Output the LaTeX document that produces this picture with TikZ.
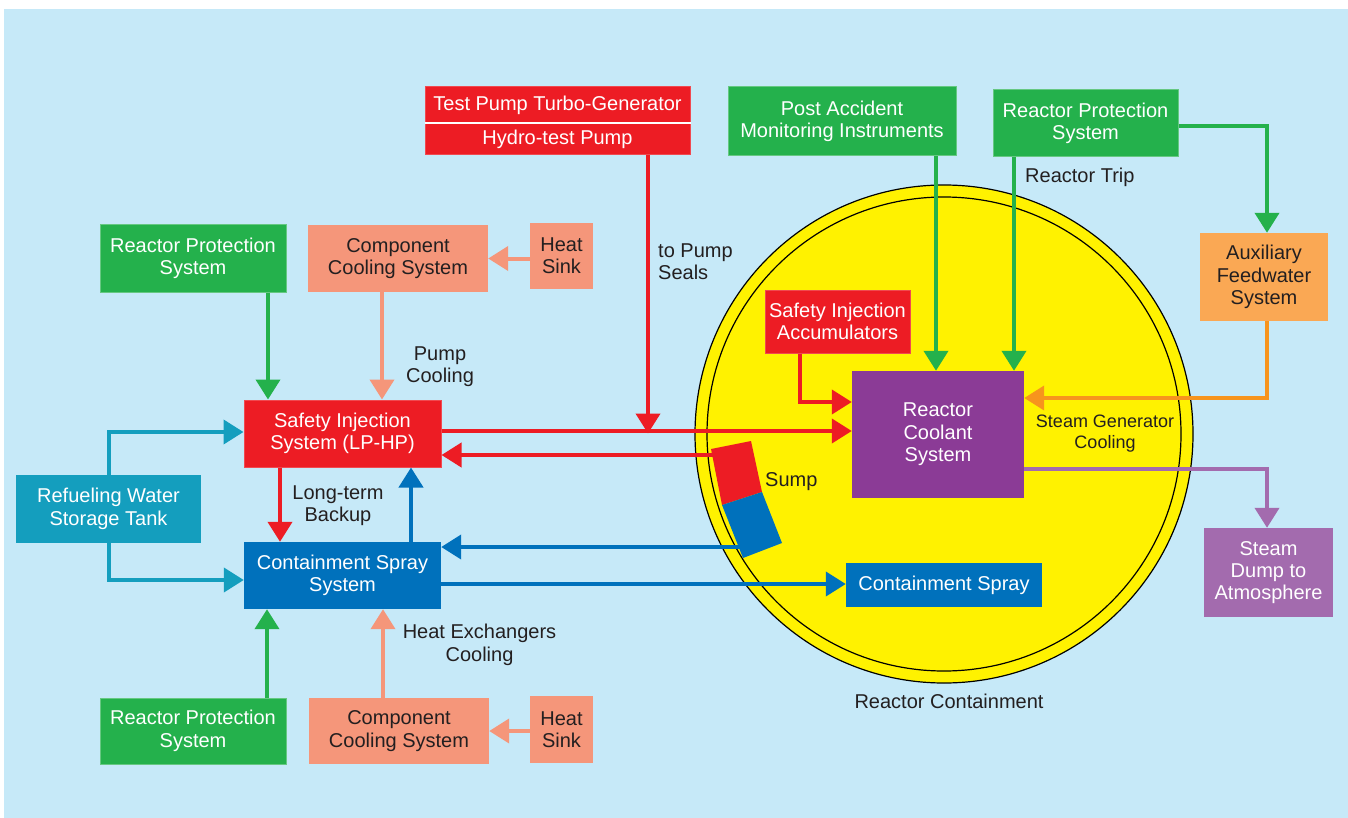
\documentclass[tikz,border=0pt]{standalone}
\usepackage{fontspec}
\setmainfont{Liberation Sans}
\usepackage{xcolor}
\usepackage{tikz}
\usetikzlibrary{positioning, arrows.meta}
\definecolor{bgblue}{RGB}{198,233,248}
\definecolor{rpgreen}{RGB}{36,177,76}
\definecolor{sired}{RGB}{237,28,36}
\definecolor{ccsalmon}{RGB}{245,150,122}
\definecolor{afworange}{RGB}{250,168,84}
\definecolor{sgorange}{RGB}{247,148,29}
\definecolor{tankteal}{RGB}{20,158,190}
\definecolor{csblue}{RGB}{0,113,188}
\definecolor{rcspurple}{RGB}{139,59,150}
\definecolor{dumppurple}{RGB}{163,107,174}
\definecolor{ctyellow}{RGB}{255,242,0}
\definecolor{labeltext}{RGB}{35,31,32}

\begin{document}
\begin{tikzpicture}[x=1pt, y=-1pt,
  box/.style={inner sep=0pt, align=center, text=white, font=\fontsize{20}{22.4}\selectfont},
  greenbox/.style={box, fill=rpgreen, draw=rpgreen!70!white, line width=1},
  redbox/.style={box, fill=sired, draw=sired!80!white, line width=1},
  bluebox/.style={box, fill=csblue},
  tealbox/.style={box, fill=tankteal},
  salmonbox/.style={box, fill=ccsalmon, text=labeltext},
  orangebox/.style={box, fill=afworange, text=labeltext},
  purplebox/.style={box, fill=rcspurple},
  dumpbox/.style={box, fill=dumppurple},
  ann/.style={text=labeltext, align=center, inner sep=0pt, font=\fontsize{20}{22.4}\selectfont},
  flow/.style={line width=4, -{Triangle[width=24pt,length=20pt]}}]
\useasboundingbox (0,0) rectangle (1348,818);
\fill[white] (0,0) rectangle (1348,818);
\fill[bgblue] (4,9) rectangle (1348,818);

\filldraw[fill=ctyellow, draw=black, line width=1.2] (944,434) circle[radius=249pt];
\draw[black, line width=1.2] (944,434) circle[radius=237pt];

\coordinate (sumpR) at (720,455);
\coordinate (sumpB) at (748,547);

\node[redbox, minimum width=265, minimum height=36] (tpg) at (557.5,105) {Test Pump Turbo-Generator};
\node[redbox, minimum width=265, minimum height=31, below=0pt of tpg] (htp) {Hydro-test Pump};
\draw[white, line width=2] (tpg.south west) -- (tpg.south east);
\node[greenbox, minimum width=228, minimum height=69] (pami) at (842,121.5) {Post Accident\\Monitoring Instruments};
\node[greenbox, minimum width=185, minimum height=67] (rpsT) at (1085.5,123.5) {Reactor Protection\\System};
\node[orangebox, minimum width=128, minimum height=88] (afw) at (1264,277) {Auxiliary\\Feedwater\\System};
\node[redbox, minimum width=145, minimum height=63] (sia) at (837.5,321.5) {Safety Injection\\Accumulators};
\node[purplebox, minimum width=172, minimum height=127] (rcs) at (938,434.5) {Reactor\\Coolant\\System};
\node[dumpbox, minimum width=129, minimum height=89] (dump) at (1268.5,572.5) {Steam\\Dump to\\Atmosphere};
\node[bluebox, minimum width=196, minimum height=44] (spray) at (944,585) {Containment Spray};
\node[redbox, minimum width=197, minimum height=67] (sis) at (342.5,433.5) {Safety Injection\\System (LP-HP)};
\node[bluebox, minimum width=197, minimum height=67] (css) at (342.5,575.5) {Containment Spray\\System};
\node[tealbox, minimum width=185, minimum height=68] (rwst) at (108.5,509) {Refueling Water\\Storage Tank};
\node[greenbox, minimum width=186, minimum height=67] (rpsL) at (193,258.5) {Reactor Protection\\System};
\node[salmonbox, minimum width=180, minimum height=67] (ccsT) at (398,258.5) {Component\\Cooling System};
\node[salmonbox, minimum width=63, minimum height=66] (hsT) at (561.5,256) {Heat\\Sink};
\node[greenbox, minimum width=186, minimum height=66] (rpsB) at (193,731) {Reactor Protection\\System};
\node[salmonbox, minimum width=180, minimum height=66] (ccsB) at (399,731) {Component\\Cooling System};
\node[salmonbox, minimum width=63, minimum height=67] (hsB) at (561.5,729.5) {Heat\\Sink};

\node[ann] (pumpcool) at (440,366.5) {Pump\\Cooling};
\node[ann, anchor=west, align=left] (seals) at (658,261.5) {to Pump\\Seals};
\node[ann, anchor=west] (trip) at (1025,177) {Reactor Trip};
\node[ann, font=\fontsize{18}{21}\selectfont] (sgcool) at (1105,433.5) {Steam Generator\\Cooling};
\node[ann] (backup) at (338,505.5) {Long-term\\Backup};
\node[ann] (hxcool) at (479.5,645) {Heat Exchangers\\Cooling};
\node[ann, anchor=west] (sumplabel) at (765,482) {Sump};
\node[ann] (contlabel) at (949,701) {Reactor Containment};

\draw[flow, rpgreen] ([xshift=75]rpsL.south) -- ([xshift=75]rpsL.south |- sis.north);
\draw[flow, ccsalmon] ([xshift=-16]ccsT.south) -- ([xshift=-16]ccsT.south |- sis.north);
\draw[flow, ccsalmon] (hsT.west |- ccsT.east) -- (ccsT.east);
\draw[flow, sired] ([xshift=90.5]htp.south) -- ([xshift=90.5]htp.south |- sis.east);
\draw[flow, sired] ([yshift=2.5]sis.east) -- ([yshift=2.5]sis.east -| rcs.west);
\draw[flow, sired] (sumpR) -- (sumpR -| sis.east);
\draw[flow, sired] ([xshift=-37.5]sia.south) |- ([yshift=32.5]rcs.west);
\draw[flow, rpgreen] ([xshift=94]pami.south) -- ([xshift=94]pami.south |- rcs.north);
\draw[flow, rpgreen] ([xshift=-71.5]rpsT.south) -- ([xshift=-71.5]rpsT.south |- rcs.north);
\draw[flow, rpgreen] ([yshift=-2.5]rpsT.east) -| ([xshift=3]afw.north);
\draw[flow, sgorange] ([xshift=3]afw.south) |- ([yshift=36.5]rcs.east);
\draw[flow, dumppurple] ([yshift=-34.5]rcs.east) -| ([xshift=-1.5]dump.north);
\draw[flow, csblue] ([yshift=-8.5]css.east) -- ([yshift=-8.5]css.east -| spray.west);
\draw[flow, csblue] (sumpB) -- (sumpB -| css.east);
\draw[flow, sired] ([xshift=-62.5]sis.south) -- ([xshift=-62.5]sis.south |- css.north);
\draw[flow, csblue] ([xshift=68.5]css.north) -- ([xshift=68.5]css.north |- sis.south);
\draw[flow, tankteal] (rwst.north) |- ([yshift=1.5]sis.west);
\draw[flow, tankteal] (rwst.south) |- ([yshift=-4.5]css.west);
\draw[flow, rpgreen] ([xshift=74]rpsB.north) -- ([xshift=74]rpsB.north |- css.south);
\draw[flow, ccsalmon] ([xshift=-16]ccsB.north) -- ([xshift=-16]ccsB.north |- css.south);
\draw[flow, ccsalmon] (hsB.west |- ccsB.east) -- (ccsB.east);

\fill[sired] (711,449) -- (751,441) -- (762,492) -- (722,505) -- cycle;
\fill[csblue] (722,505) -- (762,492) -- (782,543) -- (743,558) -- cycle;
\end{tikzpicture}
\end{document}
